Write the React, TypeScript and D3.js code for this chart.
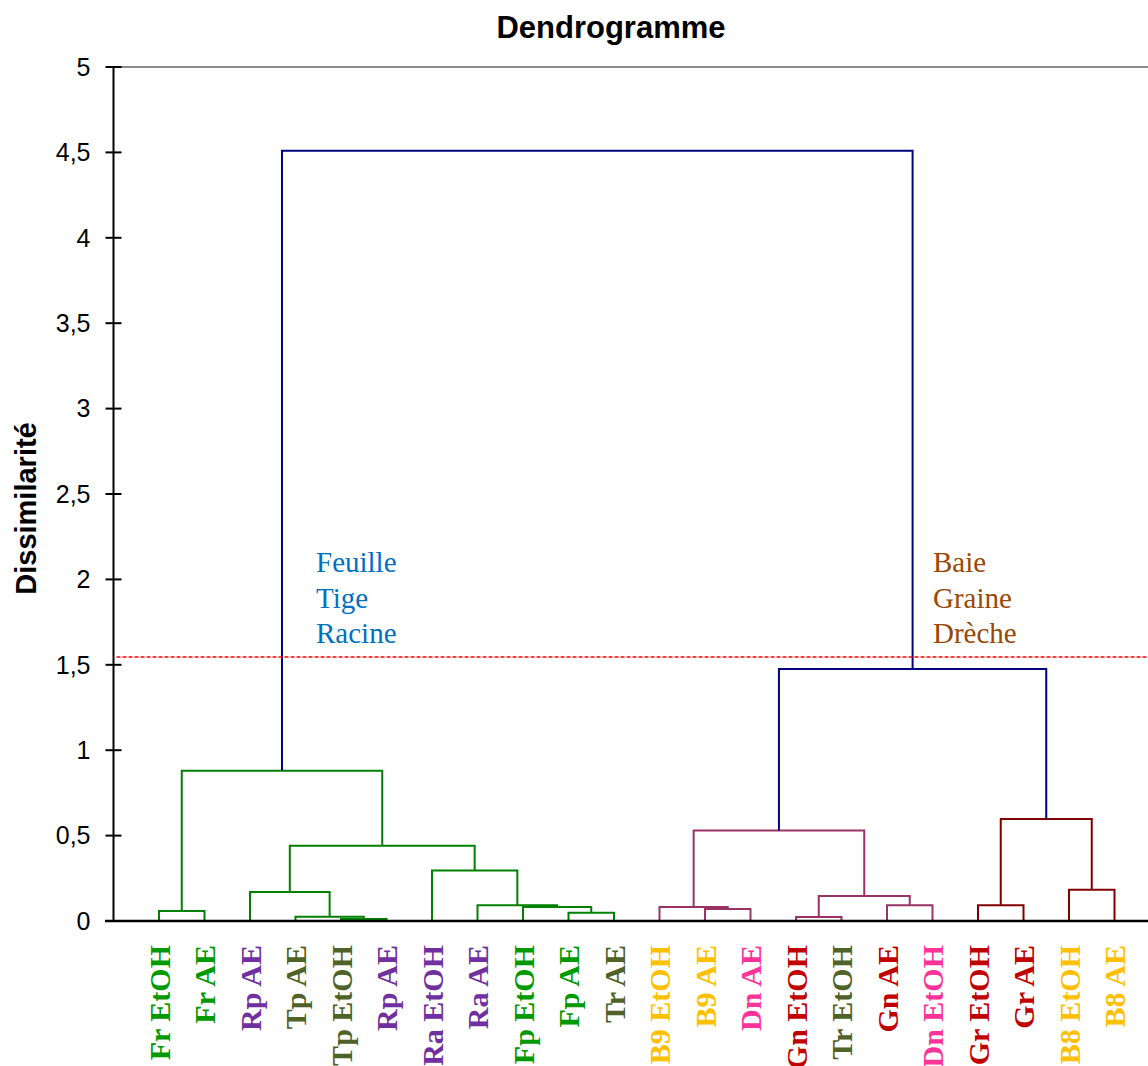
import { useEffect, useRef } from "react";
import * as d3 from "d3";

// leaves, left to right
const LEAVES = [
  "Fr EtOH", "Fr AE", "Rp AE", "Tp AE", "Tp EtOH", "Rp AE", "Ra EtOH", "Ra AE",
  "Fp EtOH", "Fp AE", "Tr AE", "B9 EtOH", "B9 AE", "Dn AE", "Gn EtOH", "Tr EtOH",
  "Gn AE", "Dn EtOH", "Gr EtOH", "Gr AE", "B8 EtOH", "B8 AE",
];

// merges: [left node, right node, height]; node ids 22+ are merges in order
const MERGES: [number, number, number][] = [
  [0, 1, 0.059],    // 22
  [4, 5, 0.012],    // 23
  [3, 23, 0.025],   // 24
  [2, 24, 0.17],    // 25
  [9, 10, 0.049],   // 26
  [8, 26, 0.082],   // 27
  [7, 27, 0.092],   // 28
  [6, 28, 0.295],   // 29
  [25, 29, 0.44],   // 30
  [22, 30, 0.88],   // 31
  [12, 13, 0.07],   // 32
  [11, 32, 0.082],  // 33
  [14, 15, 0.023],  // 34
  [16, 17, 0.092],  // 35
  [34, 35, 0.146],  // 36
  [33, 36, 0.53],   // 37
  [18, 19, 0.092],  // 38
  [20, 21, 0.183],  // 39
  [38, 39, 0.597],  // 40
  [37, 40, 1.475],  // 41
  [31, 41, 4.51],   // 42
];

const CLUSTER_ROOTS = [31, 37, 40];
const CLUSTER_COLORS = ["#008000", "#993366", "#800000"];
const TOP_COLOR = "#000080";

const CUT = 1.546;
const Y_TICKS = [0, 0.5, 1, 1.5, 2, 2.5, 3, 3.5, 4, 4.5, 5];

const LABEL_COLORS: Record<string, string> = {
  Fr: "#009900", Fp: "#009900",
  Rp: "#7030A0", Ra: "#7030A0",
  Tp: "#4F6228", Tr: "#4F6228",
  B9: "#FFC000", B8: "#FFC000",
  Dn: "#FF3399",
  Gn: "#C00000", Gr: "#C00000",
};

const GROUP_LEFT = ["Feuille", "Tige", "Racine"];
const GROUP_RIGHT = ["Baie", "Graine", "Drèche"];

export default function App() {
  const ref = useRef<SVGSVGElement>(null);

  useEffect(() => {
    if (!ref.current) return;
    const svg = d3.select(ref.current);
    svg.selectAll("*").remove();

    const W = 1148;
    const H = 1066;
    const axisX = 113.5;

    const x = d3
      .scalePoint<number>()
      .domain(LEAVES.map((_, i) => i))
      .range([axisX, 1160])
      .padding(1);
    const y = d3.scaleLinear().domain([0, 5]).range([921, 67]);

    // node positions
    const nx: number[] = LEAVES.map((_, i) => x(i) as number);
    const nh: number[] = LEAVES.map(() => 0);
    MERGES.forEach(([a, b, h]) => {
      nx.push((nx[a] + nx[b]) / 2);
      nh.push(h);
    });

    // colour per merge
    const colorOf: string[] = MERGES.map(() => TOP_COLOR);
    const paint = (node: number, c: string) => {
      if (node < LEAVES.length) return;
      const m = node - LEAVES.length;
      colorOf[m] = c;
      paint(MERGES[m][0], c);
      paint(MERGES[m][1], c);
    };
    CLUSTER_ROOTS.forEach((r, i) => paint(r, CLUSTER_COLORS[i]));

    // top gray line
    svg.append("line")
      .attr("x1", axisX + 6).attr("x2", W)
      .attr("y1", y(5)).attr("y2", y(5))
      .attr("stroke", "#8c8c8c").attr("stroke-width", 2);

    // links
    svg.append("g")
      .selectAll("path")
      .data(MERGES)
      .join("path")
      .attr("d", ([a, b, h]) =>
        `M${nx[a]},${y(nh[a])}V${y(h)}H${nx[b]}V${y(nh[b])}`)
      .attr("fill", "none")
      .attr("stroke", (_, i) => colorOf[i])
      .attr("stroke-width", 2);

    // cut line
    svg.append("line")
      .attr("x1", axisX + 3).attr("x2", W)
      .attr("y1", y(CUT)).attr("y2", y(CUT))
      .attr("stroke", "#ff0000").attr("stroke-width", 1.5)
      .attr("stroke-dasharray", "4,2");

    // y axis
    const yAxis = svg.append("g").attr("transform", `translate(${axisX},0)`);
    yAxis.append("line")
      .attr("y1", y(5)).attr("y2", y(0))
      .attr("stroke", "#000").attr("stroke-width", 2);
    yAxis.selectAll("line.tick")
      .data(Y_TICKS)
      .join("line")
      .attr("class", "tick")
      .attr("x1", -8).attr("x2", 8)
      .attr("y1", (d) => y(d)).attr("y2", (d) => y(d))
      .attr("stroke", "#000").attr("stroke-width", 2);
    yAxis.selectAll("text")
      .data(Y_TICKS)
      .join("text")
      .attr("x", -23)
      .attr("y", (d) => y(d))
      .attr("dy", "0.35em")
      .attr("text-anchor", "end")
      .attr("font-family", "Liberation Sans, Arial, sans-serif")
      .attr("font-size", 25)
      .attr("fill", "#000")
      .text((d) => String(d).replace(".", ","));

    // baseline
    svg.append("line")
      .attr("x1", 105).attr("x2", W)
      .attr("y1", y(0)).attr("y2", y(0))
      .attr("stroke", "#000").attr("stroke-width", 2.5);

    // leaf labels
    svg.append("g")
      .selectAll("text")
      .data(LEAVES)
      .join("text")
      .attr("transform", (_, i) => `translate(${nx[i]},945) rotate(-90)`)
      .attr("dy", "0.35em")
      .attr("text-anchor", "end")
      .attr("font-family", "Liberation Serif, Times New Roman, serif")
      .attr("font-weight", "bold")
      .attr("font-size", 30)
      .attr("fill", (d) => LABEL_COLORS[d.split(" ")[0]])
      .text((d) => d);

    // title and y label
    svg.append("text")
      .attr("x", 611).attr("y", 38)
      .attr("text-anchor", "middle")
      .attr("font-family", "Liberation Sans, Arial, sans-serif")
      .attr("font-weight", "bold")
      .attr("font-size", 31)
      .text("Dendrogramme");
    svg.append("text")
      .attr("transform", `translate(36,${(420 + 597) / 2}) rotate(-90)`)
      .attr("text-anchor", "middle")
      .attr("font-family", "Liberation Sans, Arial, sans-serif")
      .attr("font-weight", "bold")
      .attr("font-size", 29)
      .text("Dissimilarité");

    // group annotations
    const note = (lines: string[], x0: number, color: string) => {
      svg.append("g")
        .selectAll("text")
        .data(lines)
        .join("text")
        .attr("x", x0)
        .attr("y", (_, i) => 572 + i * 35.5)
        .attr("font-family", "Liberation Serif, Times New Roman, serif")
        .attr("font-size", 29)
        .attr("fill", color)
        .text((d) => d);
    };
    note(GROUP_LEFT, 316, "#0070C0");
    note(GROUP_RIGHT, 933, "#984807");

    svg.attr("width", W).attr("height", H);
  }, []);

  return (
    <svg
      ref={ref}
      style={{ position: "absolute", left: 0, top: 0, background: "#fff" }}
    />
  );
}
